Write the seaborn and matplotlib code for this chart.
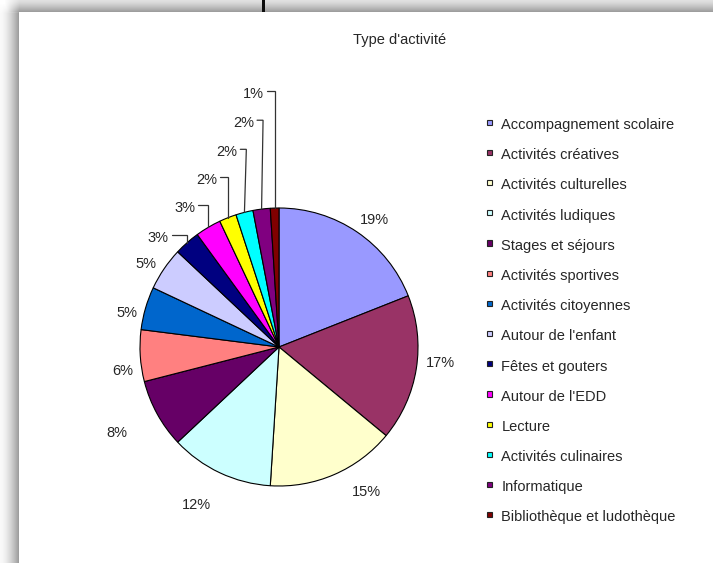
import numpy as np
import matplotlib
matplotlib.use("Agg")
import matplotlib.pyplot as plt
import seaborn as sns
from matplotlib.patches import Rectangle
from matplotlib.legend_handler import HandlerPatch

# ---- data -------------------------------------------------------------
categories = [
    "Accompagnement scolaire", "Activités créatives", "Activités culturelles",
    "Activités ludiques", "Stages et séjours", "Activités sportives",
    "Activités citoyennes", "Autour de l'enfant", "Fêtes et gouters",
    "Autour de l'EDD", "Lecture", "Activités culinaires", "Informatique",
    "Bibliothèque et ludothèque",
]
shares = [19, 17, 15, 12, 8, 6, 5, 5, 3, 3, 2, 2, 2, 1]
title = "Type d'activité"

palette = [
    "#9999FF", "#993366", "#FFFFCC", "#CCFFFF", "#660066", "#FF8080",
    "#0066CC", "#CCCCFF", "#000080", "#FF00FF", "#FFFF00", "#00FFFF",
    "#800080", "#800000",
]

# label layout: distance from centre (in radii) and angular nudge (deg, clockwise)
label_dist = [1.14, 1.165, 1.22, 1.28, 1.32, 1.14, 1.12, 1.13, 1.17, 1.21, 1.31, 1.45, 1.63, 1.83]
label_turn = [2.8, -3.3, -7.6, 2.5, 0.8, -5.0, -3.6, -2.2, -6.6, -3.4, -1.7, -0.6, -1.8, -4.0]
leader = [False] * 8 + [True] * 6

# ---- style ------------------------------------------------------------
sns.set_theme(style="white")
plt.rcParams["font.family"] = ["Liberation Sans", "DejaVu Sans"]
text_color = "#262626"
fs = 10.5

W, H = 713, 577
fig = plt.figure(figsize=(W / 100, H / 100), dpi=100)
fig.patch.set_facecolor("white")

# soft drop shadow along the top and left edges of the page
yy, xx = np.mgrid[0:H, 0:W].astype(float)
top_d = np.where(yy < 12, 0.12 + 0.26 * (yy / 11.0) ** 1.3, 0.0)
top_d *= np.clip((xx - 4) / 15.0, 0, 1)
left_d = np.where(xx < 19, 0.02 + 0.36 * (xx / 18.0) ** 1.6, 0.0)
left_d *= np.clip((yy - 3) / 10.0, 0, 1)
left_d[yy >= 563] = 0.0
dark = np.maximum(top_d, left_d)
bg = np.repeat((1.0 - dark)[:, :, None], 3, axis=2)
bg[0:12, 262:265, :] = 0.05
fig.figimage(bg, xo=0, yo=0, origin="upper", zorder=-1)

# ---- pie --------------------------------------------------------------
R = 139.0
cx, cy = 279.0, H - 347.0
span = 2.0
ax = fig.add_axes([(cx - span * R) / W, (cy - span * R) / H, 2 * span * R / W, 2 * span * R / H])
ax.set_facecolor("none")
wedges, _ = ax.pie(
    shares, colors=palette, startangle=90, counterclock=False, radius=1.0,
    wedgeprops=dict(edgecolor="black", linewidth=0.8),
)
ax.set_xlim(-span, span)
ax.set_ylim(-span, span)
ax.set_aspect("equal")
ax.axis("off")

total = float(sum(shares))
cum = np.cumsum([0] + shares)
texts = []
for i, v in enumerate(shares):
    mid = (cum[i] + v / 2.0) / total * 360.0
    ang = np.deg2rad(mid + label_turn[i])
    x = label_dist[i] * np.sin(ang)
    y = label_dist[i] * np.cos(ang)
    t = ax.text(x, y, f"{v}%", ha="center", va="center", fontsize=fs,
                color=text_color, clip_on=False)
    texts.append((t, mid))

fig.canvas.draw()
renderer = fig.canvas.get_renderer()
inv = ax.transData.inverted()
px = 1.0 / R
for (t, mid), has_line in zip(texts, leader):
    if not has_line:
        continue
    bb = t.get_window_extent(renderer)
    x0, y0 = inv.transform((bb.x1 + 3, (bb.y0 + bb.y1) / 2 + 3))
    a = np.deg2rad(mid)
    ex, ey = np.sin(a), np.cos(a)
    elbow = max(ex, x0 + 6 * px)
    ax.plot([x0, elbow, ex], [y0, y0, ey], color="#333333", lw=0.9,
            clip_on=False, solid_joinstyle="miter")

# ---- title ------------------------------------------------------------
fig.text(400 / W, 1 - 40 / H, title, ha="center", va="center",
         fontsize=fs, color=text_color)


# ---- legend -----------------------------------------------------------
def small_square(legend, orig_handle, xdescent, ydescent, width, height, fontsize):
    s = 0.36 * fontsize
    return Rectangle((-xdescent, -ydescent + 0.28 * fontsize), width, s)


handles = [Rectangle((0, 0), 1, 1, facecolor=c, edgecolor="#222222", linewidth=0.8)
           for c in palette]
leg = fig.legend(
    handles, categories, loc="upper left",
    bbox_to_anchor=(487 / W, 1 - 118 / H), bbox_transform=fig.transFigure,
    frameon=False, fontsize=fs, handlelength=0.36, handleheight=0.7,
    handletextpad=0.62, labelspacing=1.11, borderpad=0, borderaxespad=0,
    handler_map={Rectangle: HandlerPatch(patch_func=small_square)},
)
for txt in leg.get_texts():
    txt.set_color(text_color)

fig.savefig("out.png", dpi=100, facecolor="white")
